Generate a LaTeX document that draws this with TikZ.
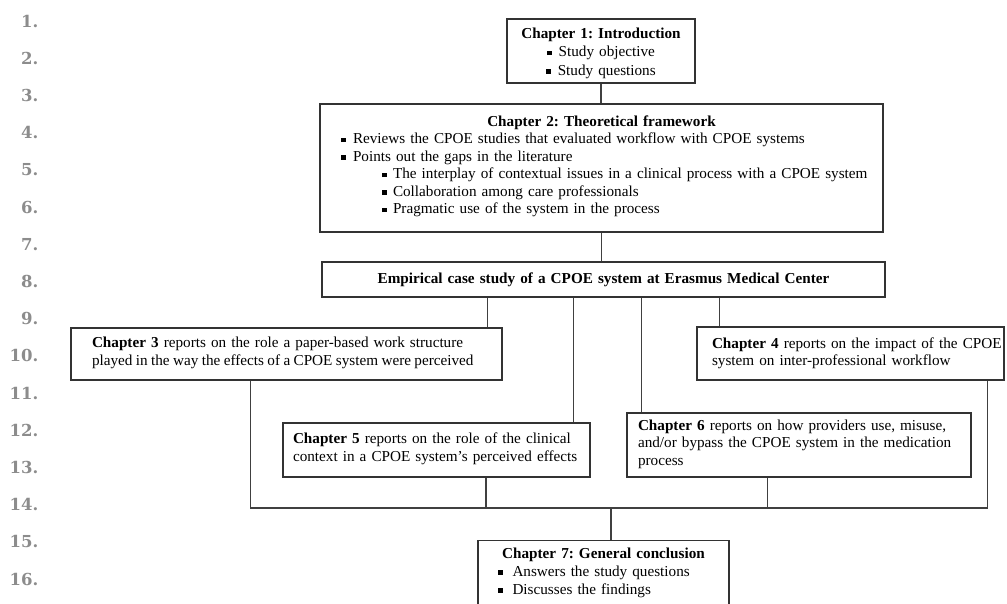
\documentclass[tikz,border=0pt]{standalone}
\usepackage{fontspec}
\setmainfont{Liberation Serif}
\newfontfamily\numfont{DejaVu Serif}
\frenchspacing
\begin{document}
% small filled square used as a list bullet
\newcommand{\sqb}{\rule[1.4pt]{4.5pt}{4.5pt}}
\newcommand{\itm}[1]{\mbox{\sqb\hspace{7.5pt}#1}}
\newcommand{\subitm}[1]{\mbox{\hspace*{41pt}\sqb\hspace{6.5pt}#1}}
% a line set with slightly tighter word spaces
\newcommand{\tightline}[1]{\mbox{\spaceskip=3.4pt\relax #1}}
\begin{tikzpicture}[x=1pt,y=-1pt,
  box/.style={draw=black!80, line width=1.1pt, inner ysep=0pt,
    font=\fontsize{15.2}{17.5}\selectfont, align=left},
  link/.style={draw=black!75, line width=1.1pt},
  lineno/.style={anchor=east, inner sep=0pt, text=black!45,
    font=\numfont\bfseries\fontsize{16.5}{16.5}\selectfont}]
\useasboundingbox[fill=white] (0,0) rectangle (1007,603);

% margin line numbers
\foreach \i in {1,...,16}
  \node[lineno] (n\i) at (38.5,{21+(\i-1)*37.2}) {\i.};

% chapter boxes
\node[box, align=center, inner xsep=4pt, text width=180pt, minimum height=64pt,
      font=\fontsize{15.2}{18.5}\selectfont] (c1) at (601,51)
  {\rule{0pt}{14.5pt}\textbf{Chapter 1: Introduction}\\ \sqb\hspace{7pt}Study objective\\ \sqb\hspace{7pt}Study questions};

\node[box, inner xsep=21pt, text width=521pt, minimum height=128pt] (c2) at (601.5,168)
  {\makebox[521pt]{\textbf{Chapter 2: Theoretical framework}}\\
   \itm{Reviews the CPOE studies that evaluated workflow with CPOE systems}\\
   \itm{Points out the gaps in the literature}\\
   \subitm{The interplay of contextual issues in a clinical process with a CPOE system}\\
   \subitm{Collaboration among care professionals}\\
   \subitm{Pragmatic use of the system in the process}\rule[-7pt]{0pt}{7pt}};

\node[box, align=center, inner xsep=4pt, text width=555pt, minimum height=35pt] (emp) at (603.5,279.5)
  {\textbf{Empirical case study of a CPOE system at Erasmus Medical Center}};

\node[box, inner xsep=21pt, text width=389pt, minimum height=52pt] (c3) at (286.5,354)
  {\mbox{\textbf{Chapter 3} reports on the role a paper-based work structure}\\
   \tightline{played in the way the effects of a CPOE system were perceived}\rule[-6pt]{0pt}{6pt}};

\node[box, inner xsep=15pt, text width=277pt, minimum height=53pt] (c4) at (850.5,353.5)
  {\mbox{\textbf{Chapter 4} reports on the impact of the CPOE}\\
   \mbox{system on inter-professional workflow}\rule[-3pt]{0pt}{3pt}};

\node[box, inner xsep=10pt, text width=287pt, minimum height=54pt] (c5) at (436.5,450)
  {\mbox{\textbf{Chapter 5} reports on the role of the clinical}\\
   \mbox{context in a CPOE system's perceived effects}\rule[-6pt]{0pt}{6pt}};

\node[box, inner xsep=11pt, text width=322pt, minimum height=64pt] (c6) at (799,445)
  {\mbox{\textbf{Chapter 6} reports on how providers use, misuse,}\\
   \mbox{and/or bypass the CPOE system in the medication}\\
   \mbox{process}\rule[-5pt]{0pt}{5pt}};

\node[box, anchor=north, inner xsep=20pt, text width=211pt, inner ysep=7pt,
      font=\fontsize{15.2}{18}\selectfont] (c7) at (603.5,540)
  {\makebox[211pt]{\textbf{Chapter 7: General conclusion}}\\
   \mbox{\sqb\hspace{10pt}Answers the study questions}\\
   \mbox{\sqb\hspace{10pt}Discusses the findings}\\
   \mbox{}};

% connectors
\coordinate (bus) at (611,508);
\draw[link] (c1.south) -- (c1.south |- c2.north);
\draw[link] (c2.south) -- (c2.south |- emp.north);
\draw[link] ([xshift=-15pt]c3.north east) -- ([xshift=-15pt]c3.north east |- emp.south);
\draw[link] ([xshift=-17pt]c5.north east) -- ([xshift=-17pt]c5.north east |- emp.south);
\draw[link] ([xshift=15pt]c6.north west) -- ([xshift=15pt]c6.north west |- emp.south);
\draw[link] ([xshift=23pt]c4.north west) -- ([xshift=23pt]c4.north west |- emp.south);
\draw[link] ([xshift=180pt]c3.south west) |- ([xshift=-17pt]c4.south east |- bus)
            -- ([xshift=-17pt]c4.south east);
\draw[link] ([xshift=49.5pt]c5.south) -- ([xshift=49.5pt]c5.south |- bus);
\draw[link] ([xshift=141pt]c6.south west) -- ([xshift=141pt]c6.south west |- bus);
\draw[link] (bus) -- (bus |- c7.north);
\end{tikzpicture}
\end{document}
